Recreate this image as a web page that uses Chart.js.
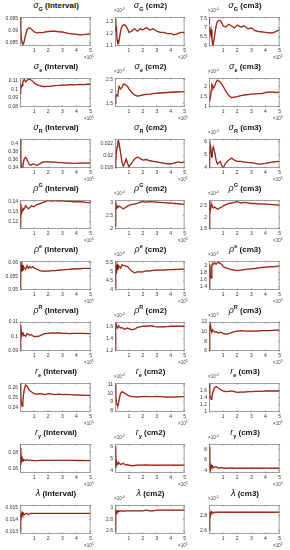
<html lang="en">
<head>
  <meta charset="UTF-8">
  <title>Parameter traces</title>
  <script src="https://cdn.jsdelivr.net/npm/chart.js"></script>
  <style>
    body, html {
      margin: 0;
      padding: 0;
      background: #fff;
      font-family: "Liberation Sans", Arial, sans-serif;
    }
    #wrap { position: relative; width: 290px; height: 550px; overflow: hidden; }
    canvas { position: absolute; }
    .ttl { position: absolute; font-size: 8px; font-weight: bold; line-height: 10px; text-align: center; white-space: nowrap; color: #111; }
    .ttl i { font-weight: normal; font-size: 9px; }
    .ttl sub, .ttl sup { font-size: 5.5px; line-height: 0; }
    .exp { position: absolute; font-size: 4.5px; line-height: 6px; color: #444; white-space: nowrap; }
    .exp sup { font-size: 3.5px; line-height: 0; }
  </style>
</head>
<body>
<div id="wrap"></div>
<script>
// x positions (x10^5 iterations)
const xs = [0, 0.05, 0.1, 0.15, 0.2, 0.25, 0.3, 0.4, 0.5, 0.6, 0.7, 0.8, 0.9, 1.0, 1.2, 1.4, 1.6, 1.8, 2.0, 2.25, 2.5, 2.75, 3.0, 3.25, 3.5, 3.75, 4.0, 4.25, 4.5, 4.75, 5.0];
const xTicks = [1, 2, 3, 4, 5];

// row 1: sigma_G
const sgInt = [0.0956,0.091,0.087,0.0852,0.0846,0.0848,0.0858,0.0885,0.0905,0.0912,0.0912,0.0908,0.0902,0.0897,0.0892,0.0894,0.0893,0.0896,0.0898,0.0899,0.0899,0.0897,0.0896,0.0892,0.0889,0.0888,0.0886,0.0884,0.0885,0.0887,0.0888];
const sgCm2 = [1.32,1.22,1.26,1.15,1.12,1.12,1.15,1.22,1.26,1.27,1.27,1.26,1.24,1.21,1.22,1.24,1.22,1.24,1.23,1.25,1.23,1.24,1.22,1.21,1.21,1.20,1.20,1.19,1.20,1.21,1.21];
const sgCm3 = [7.05,6.9,6.65,6.9,6.5,6.1,6.05,6.6,7.1,7.35,7.4,7.4,7.3,7.1,7.05,7.2,7.1,7.0,7.15,7.05,7.1,6.95,7.0,6.85,6.8,6.78,6.75,6.72,6.72,6.8,6.9];
// row 2: sigma_e
const seInt = [0.095,0.106,0.102,0.104,0.108,0.11,0.111,0.108,0.11,0.111,0.111,0.11,0.109,0.107,0.105,0.104,0.103,0.103,0.1032,0.1035,0.104,0.1042,0.1045,0.1045,0.105,0.1048,0.105,0.1052,0.105,0.1055,0.1055];
const seCm2 = [1.5,1.8,1.85,1.8,1.85,2.05,2.2,2.1,2.15,2.3,2.3,2.25,2.2,2.1,1.95,1.85,1.8,1.82,1.85,1.87,1.88,1.9,1.92,1.93,1.94,1.95,1.96,1.97,1.97,1.98,1.99];
const seCm3 = [1.3,1.35,1.4,1.8,2.1,2.05,1.9,2.0,2.2,2.3,2.25,2.2,2.1,2.0,1.75,1.55,1.45,1.48,1.5,1.55,1.58,1.6,1.62,1.63,1.65,1.65,1.7,1.72,1.72,1.7,1.72];
// row 3: sigma_R
const srInt = [0.41,0.365,0.342,0.341,0.345,0.355,0.362,0.366,0.36,0.352,0.347,0.347,0.35,0.349,0.346,0.35,0.354,0.355,0.355,0.354,0.354,0.353,0.353,0.352,0.352,0.351,0.351,0.352,0.352,0.352,0.352];
const srCm2 = [0.018,0.019,0.0205,0.0215,0.0223,0.0225,0.022,0.0205,0.019,0.0183,0.0188,0.0195,0.0188,0.0182,0.0188,0.0195,0.0198,0.0196,0.0193,0.0194,0.0192,0.0191,0.019,0.0189,0.0188,0.0187,0.0187,0.0188,0.019,0.0189,0.019];
const srCm3 = [4.1,5.2,5.7,5.2,4.8,5.3,5.6,5.2,4.6,4.3,4.4,4.5,4.2,4.0,4.4,4.6,4.75,4.6,4.5,4.5,4.45,4.42,4.4,4.35,4.3,4.32,4.35,4.4,4.45,4.48,4.5];
// row 4: rho_G
const pgInt = [0.115,0.138,0.128,0.131,0.133,0.132,0.133,0.136,0.134,0.133,0.134,0.136,0.135,0.135,0.137,0.138,0.139,0.140,0.141,0.1405,0.141,0.1405,0.1408,0.1402,0.1403,0.1398,0.14,0.1398,0.1395,0.139,0.139];
const pgCm2 = [2.1,3.0,2.75,2.8,2.85,2.82,2.85,2.82,2.78,2.75,2.78,2.82,2.85,2.88,2.92,2.93,2.95,3.0,3.02,3.0,3.02,3.01,3.0,2.99,2.98,2.97,2.96,2.95,2.94,2.93,2.92];
const pgCm3 = [1.5,2.7,2.3,2.5,2.55,2.45,2.4,2.45,2.4,2.35,2.38,2.42,2.45,2.5,2.55,2.6,2.62,2.65,2.68,2.62,2.65,2.63,2.6,2.6,2.58,2.58,2.57,2.56,2.55,2.54,2.53];
// row 5: rho_e
const peInt = [0.05,0.06,0.0565,0.059,0.057,0.0585,0.058,0.0575,0.0588,0.0578,0.0585,0.058,0.0585,0.058,0.0575,0.057,0.0568,0.0568,0.0568,0.057,0.057,0.0572,0.0573,0.0574,0.0575,0.0576,0.0577,0.0577,0.0578,0.0578,0.0578];
const peCm2 = [4.1,5.4,4.9,5.4,5.1,5.35,5.3,5.2,5.4,5.35,5.35,5.3,5.3,5.2,5.05,4.95,5.0,5.0,5.0,5.05,5.05,5.08,5.1,5.1,5.1,5.12,5.12,5.13,5.14,5.15,5.15];
const peCm3 = [1.35,2.05,1.75,1.65,2.0,2.08,2.05,2.1,2.05,2.1,2.1,2.08,2.05,1.98,1.95,1.92,1.9,1.88,1.87,1.88,1.9,1.91,1.92,1.93,1.95,1.96,1.97,1.98,1.98,1.99,2.0];
// row 6: rho_R
const prInt = [0.09,0.108,0.1,0.102,0.103,0.1005,0.101,0.1,0.102,0.1015,0.101,0.1013,0.1005,0.1,0.1,0.1005,0.1015,0.102,0.1022,0.1025,0.1023,0.1025,0.1022,0.1022,0.102,0.1022,0.1022,0.1022,0.1021,0.102,0.102];
const prCm2 = [1.22,1.67,1.62,1.58,1.6,1.62,1.6,1.58,1.59,1.57,1.56,1.57,1.58,1.57,1.55,1.56,1.59,1.6,1.61,1.61,1.62,1.61,1.6,1.6,1.6,1.605,1.61,1.61,1.61,1.61,1.61];
const prCm3 = [6.0,10.5,11.5,10.2,10.0,10.4,10.2,9.9,10.0,9.8,9.7,9.9,9.8,9.6,9.5,9.6,9.8,10.0,10.1,10.2,10.15,10.1,10.1,10.1,10.15,10.2,10.2,10.2,10.25,10.3,10.3];
// row 7: r_e
const reInt = [0.265,0.252,0.243,0.241,0.246,0.253,0.258,0.263,0.262,0.259,0.257,0.256,0.255,0.254,0.2535,0.254,0.2535,0.253,0.254,0.2535,0.253,0.2535,0.253,0.2532,0.253,0.2528,0.2525,0.2525,0.2523,0.2523,0.2522];
const reCm2 = [11.0,10.0,9.0,8.6,8.5,8.8,9.3,10.0,10.2,10.1,10.0,9.9,9.8,9.7,9.6,9.6,9.55,9.6,9.6,9.62,9.6,9.6,9.62,9.6,9.58,9.55,9.55,9.55,9.58,9.6,9.6];
const reCm3 = [1.78,1.5,1.4,1.35,1.4,1.5,1.58,1.68,1.7,1.68,1.65,1.62,1.6,1.58,1.56,1.57,1.58,1.56,1.54,1.55,1.55,1.56,1.56,1.57,1.57,1.57,1.58,1.58,1.58,1.58,1.58];
// row 8: r_y
const ryInt = [0.185,0.165,0.175,0.169,0.172,0.17,0.171,0.17,0.171,0.17,0.1705,0.17,0.1702,0.17,0.17,0.1702,0.1703,0.1702,0.1702,0.1703,0.1702,0.1702,0.1703,0.1702,0.1702,0.1702,0.1701,0.1701,0.1701,0.17,0.17];
const ryCm2 = [6.0,4.2,4.8,4.5,4.6,4.7,4.6,4.5,4.55,4.6,4.5,4.45,4.5,4.45,4.4,4.42,4.45,4.45,4.45,4.46,4.45,4.45,4.44,4.44,4.45,4.45,4.45,4.44,4.44,4.45,4.45];
const ryCm3 = [8.5,5.0,4.0,5.0,4.6,4.8,4.5,4.6,4.7,4.5,4.4,4.5,4.5,4.45,4.4,4.42,4.45,4.4,4.4,4.42,4.4,4.4,4.42,4.4,4.4,4.4,4.42,4.42,4.4,4.4,4.4];
// row 9: lambda
const lmInt = [0.013,0.0145,0.0142,0.0146,0.0144,0.0145,0.0144,0.0145,0.0145,0.0144,0.0145,0.0145,0.0145,0.0145,0.0145,0.0145,0.0145,0.0145,0.0145,0.0145,0.0145,0.0145,0.0145,0.0145,0.0145,0.0145,0.0145,0.0145,0.0145,0.0145,0.0145];
const lmCm2 = [2.6,2.95,2.9,2.95,2.93,2.95,2.94,2.95,2.95,2.94,2.95,2.95,2.95,2.95,2.95,2.95,2.95,2.95,2.95,2.96,2.95,2.95,2.96,2.96,2.96,2.96,2.96,2.96,2.96,2.96,2.96];
const lmCm3 = [2.6,2.85,2.8,2.86,2.84,2.85,2.84,2.85,2.85,2.85,2.85,2.85,2.85,2.85,2.85,2.85,2.85,2.85,2.85,2.85,2.85,2.85,2.85,2.85,2.85,2.85,2.85,2.85,2.85,2.85,2.85];

// short second-chain traces at the very start (blue)
const xsStart = [0, 0.03];
const sgCm3Blue = [7.55, 7.2];
const srIntBlue = [0.41, 0.36];
const pgIntBlue = [0.113, 0.125];
const peIntBlue = [0.0605, 0.058];
const ryIntBlue = [0.19, 0.16];
const ryCm3Blue = [9, 5.5];

// y tick labels and ranges per panel
const sgIntTicks = [0.085, 0.09, 0.095], sgCm2Ticks = [1.1, 1.2, 1.3], sgCm3Ticks = [6, 6.5, 7, 7.5];
const seIntTicks = [0.08, 0.09, 0.1, 0.11], seCm2Ticks = [1.5, 2, 2.5], seCm3Ticks = [1, 1.5, 2];
const srIntTicks = [0.34, 0.36, 0.38, 0.4], srCm2Ticks = [0.018, 0.02, 0.022], srCm3Ticks = [4, 5, 6];
const pgIntTicks = [0.12, 0.13, 0.14], pgCm2Ticks = [2, 2.5, 3], pgCm3Ticks = [1.5, 2, 2.5];
const peIntTicks = [0.05, 0.055, 0.06], peCm2Ticks = [4, 4.5, 5, 5.5], peCm3Ticks = [1.4, 1.6, 1.8, 2];
const prIntTicks = [0.09, 0.1, 0.11], prCm2Ticks = [1.2, 1.4, 1.6], prCm3Ticks = [6, 8, 10, 12];
const reIntTicks = [0.24, 0.25, 0.26], reCm2Ticks = [8, 9, 10, 11], reCm3Ticks = [1, 1.2, 1.4, 1.6];
const ryIntTicks = [0.16, 0.18], ryCm2Ticks = [4, 5, 6], ryCm3Ticks = [4, 6, 8];
const lmIntTicks = [0.013, 0.014, 0.015], lmCm2Ticks = [2.6, 2.8, 3], lmCm3Ticks = [2.6, 2.8];

const panels = [
  ['\u03c3', 'G', 'sub', 'Interval', sgInt, sgIntTicks, [0.0838, 0.0958], null, null],
  ['\u03c3', 'G', 'sub', 'cm2', sgCm2, sgCm2Ticks, [1.1, 1.335], -3, null],
  ['\u03c3', 'G', 'sub', 'cm3', sgCm3, sgCm3Ticks, [6, 7.6], -4, sgCm3Blue],
  ['\u03c3', 'e', 'sub', 'Interval', seInt, seIntTicks, [0.08, 0.1125], null, null],
  ['\u03c3', 'e', 'sub', 'cm2', seCm2, seCm2Ticks, [1.35, 2.55], -3, null],
  ['\u03c3', 'e', 'sub', 'cm3', seCm3, seCm3Ticks, [1, 2.4], -4, null],
  ['\u03c3', 'R', 'sub', 'Interval', srInt, srIntTicks, [0.34, 0.41], null, srIntBlue],
  ['\u03c3', 'R', 'sub', 'cm2', srCm2, srCm2Ticks, [0.018, 0.0228], null, null],
  ['\u03c3', 'R', 'sub', 'cm3', srCm3, srCm3Ticks, [4, 6.2], -3, null],
  ['\u03c1', 'G', 'sup', 'Interval', pgInt, pgIntTicks, [0.113, 0.1415], null, pgIntBlue],
  ['\u03c1', 'G', 'sup', 'cm2', pgCm2, pgCm2Ticks, [2, 3.08], -3, null],
  ['\u03c1', 'G', 'sup', 'cm3', pgCm3, pgCm3Ticks, [1.5, 2.75], -4, null],
  ['\u03c1', 'e', 'sup', 'Interval', peInt, peIntTicks, [0.05, 0.0605], null, peIntBlue],
  ['\u03c1', 'e', 'sup', 'cm2', peCm2, peCm2Ticks, [4, 5.6], -3, null],
  ['\u03c1', 'e', 'sup', 'cm3', peCm3, peCm3Ticks, [1.3, 2.15], -5, null],
  ['\u03c1', 'R', 'sup', 'Interval', prInt, prIntTicks, [0.09, 0.11], null, null],
  ['\u03c1', 'R', 'sup', 'cm2', prCm2, prCm2Ticks, [1.2, 1.68], -3, null],
  ['\u03c1', 'R', 'sup', 'cm3', prCm3, prCm3Ticks, [6, 12], -5, null],
  ['r', 'e', 'sub', 'Interval', reInt, reIntTicks, [0.235, 0.265], null, null],
  ['r', 'e', 'sub', 'cm2', reCm2, reCm2Ticks, [7.8, 11.2], -3, null],
  ['r', 'e', 'sub', 'cm3', reCm3, reCm3Ticks, [1, 1.8], -3, null],
  ['r', 'y', 'sub', 'Interval', ryInt, ryIntTicks, [0.155, 0.19], null, ryIntBlue],
  ['r', 'y', 'sub', 'cm2', ryCm2, ryCm2Ticks, [3.8, 6.2], -3, null],
  ['r', 'y', 'sub', 'cm3', ryCm3, ryCm3Ticks, [3.5, 9], -4, ryCm3Blue],
  ['\u03bb', '', 'sub', 'Interval', lmInt, lmIntTicks, [0.0128, 0.0152], null, null],
  ['\u03bb', '', 'sub', 'cm2', lmCm2, lmCm2Ticks, [2.55, 3.05], -4, null],
  ['\u03bb', '', 'sub', 'cm3', lmCm3, lmCm3Ticks, [2.55, 2.95], -5, null]
];

const colCanvasL = [0, 95, 190];
const colPlotL = [20, 115, 209];
const colPlotR = [92, 186, 281];
const rowH = 61;

const frame = {
  id: 'frame',
  afterDraw(chart) {
    const a = chart.chartArea, c = chart.ctx;
    c.save();
    c.strokeStyle = '#777';
    c.lineWidth = 0.7;
    c.strokeRect(a.left + 0.5, a.top + 0.5, a.right - a.left - 1, a.bottom - a.top - 1);
    // inward tick marks
    c.beginPath();
    const sx = chart.scales.x, sy = chart.scales.y;
    sx.ticks.forEach(t => {
      const px = sx.getPixelForValue(t.value);
      c.moveTo(px, a.bottom); c.lineTo(px, a.bottom - 1.5);
      c.moveTo(px, a.top); c.lineTo(px, a.top + 1.5);
    });
    sy.ticks.forEach(t => {
      const py = sy.getPixelForValue(t.value);
      c.moveTo(a.left, py); c.lineTo(a.left + 1.5, py);
      c.moveTo(a.right, py); c.lineTo(a.right - 1.5, py);
    });
    c.stroke();
    c.restore();
  }
};

const wrap = document.getElementById('wrap');
const tickFont = { size: 5, family: 'Liberation Sans' };

panels.forEach((p, k) => {
  const [sym, idx, pos, unit, vals, ticks, range, expo, blue] = p;
  const r = Math.floor(k / 3), col = k % 3;
  const top = r * rowH;

  const cv = document.createElement('canvas');
  const w = colPlotR[col] + 2 - colCanvasL[col];
  cv.width = w; cv.height = 46;
  cv.style.left = colCanvasL[col] + 'px';
  cv.style.top = (top + 12) + 'px';
  wrap.appendChild(cv);

  const yw = colPlotL[col] - colCanvasL[col];
  const pts = xs.map((x, i) => ({ x: x, y: vals[i] }));
  const datasets = [
    { data: pts, borderColor: '#5a2212', borderWidth: 0.6, pointRadius: 0, tension: 0 },
    { data: pts, borderColor: '#d8392a', borderWidth: 1.3, pointRadius: 0, tension: 0 }
  ];
  if (blue) {
    datasets.push({ data: xsStart.map((x, i) => ({ x: x, y: blue[i] })), borderColor: '#2b3fd0', borderWidth: 1.2, pointRadius: 0, tension: 0 });
  }

  new Chart(cv, {
    type: 'line',
    data: { datasets: datasets },
    options: {
      responsive: false,
      animation: false,
      layout: { padding: { top: 2, right: 2, left: 0, bottom: 0 } },
      plugins: { legend: { display: false }, tooltip: { enabled: false } },
      scales: {
        x: {
          type: 'linear', min: 0, max: 5,
          afterBuildTicks: a => { a.ticks = xTicks.map(v => ({ value: v })); },
          ticks: { font: tickFont, color: '#333', padding: 2, maxRotation: 0, autoSkip: false, callback: v => String(v) },
          grid: { display: false, drawTicks: false },
          border: { display: false },
          afterFit: a => { a.height = 12; }
        },
        y: {
          min: range[0], max: range[1],
          afterBuildTicks: a => { a.ticks = ticks.map(v => ({ value: v })); },
          ticks: { font: tickFont, color: '#333', padding: 2, autoSkip: false, callback: v => String(v) },
          grid: { display: false, drawTicks: false },
          border: { display: false },
          afterFit: a => { a.width = yw; }
        }
      }
    },
    plugins: [frame]
  });

  const cx = (colPlotL[col] + colPlotR[col]) / 2;
  const t = document.createElement('div');
  t.className = 'ttl';
  t.style.left = (cx - 45) + 'px';
  t.style.width = '90px';
  t.style.top = top + 'px';
  t.innerHTML = '<i>' + sym + '</i>' + (idx ? '<' + pos + '>' + idx + '</' + pos + '>' : '') + ' (' + unit + ')';
  wrap.appendChild(t);

  const x5 = document.createElement('div');
  x5.className = 'exp';
  x5.style.left = (colPlotR[col] - 8) + 'px';
  x5.style.top = (top + 55) + 'px';
  x5.innerHTML = '\u00d710<sup>5</sup>';
  wrap.appendChild(x5);

  if (expo !== null) {
    const e = document.createElement('div');
    e.className = 'exp';
    e.style.left = (colPlotL[col] - 1) + 'px';
    e.style.top = (top + 8) + 'px';
    e.innerHTML = '\u00d710<sup>' + expo + '</sup>';
    wrap.appendChild(e);
  }
});
</script>
</body>
</html>
